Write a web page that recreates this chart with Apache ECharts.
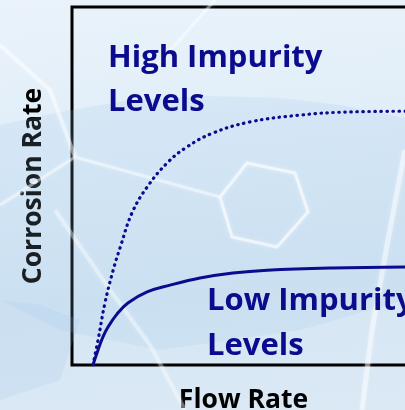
<!DOCTYPE html>
<html><head><meta charset="utf-8">
<script src="https://cdn.jsdelivr.net/npm/echarts@6/dist/echarts.min.js"></script>
<style>
html,body{margin:0;padding:0;}
body{width:405px;height:410px;overflow:hidden;background:linear-gradient(175deg,#eaf3fa 0%,#e0edf8 35%,#d5e6f4 70%,#dbe9f5 100%);}
#c{width:405px;height:410px;}
</style></head><body><div id="c"></div>
<script>
// Data (arbitrary units: x 0..100 flow rate, y 0..100 corrosion rate)
var highX = [6.1, 7.6, 9.6, 12.0, 14.0, 17.5, 21.9, 27.7, 33.5, 41.1, 51.9, 66.5, 81.0, 100];
var highY = [0, 7.0, 17.3, 26.5, 32.7, 42.5, 49.7, 56.4, 60.9, 64.8, 67.9, 69.8, 70.7, 70.9];
var lowX = [6.1, 7.6, 9.0, 10.5, 13.1, 16.3, 21.9, 28.6, 37.3, 46.9, 56.9, 76.1, 100];
var lowY = [0, 4.2, 7.8, 10.6, 14.2, 17.3, 20.4, 22.3, 24.3, 25.7, 26.5, 27.1, 27.4];
var xName = 'Flow Rate';
var yName = 'Corrosion Rate';
var highLabel = ['High Impurity', 'Levels'];
var lowLabel = ['Low Impurity', 'Levels'];

function pairs(xs, ys){ return xs.map(function(x,i){ return [x, ys[i]]; }); }

var navy = '#0b0b8e';
var fam = '"Open Sans", Lato, sans-serif';
var softLine = function(pts, w, a){
  return {type:'polyline', z:1, silent:true, shape:{points:pts},
    style:{fill:'none', stroke:'rgba(255,255,255,' + a + ')', lineWidth:w, shadowBlur:4, shadowColor:'rgba(255,255,255,0.6)'}};
};
var chart = echarts.init(document.getElementById('c'), null, {renderer:'canvas'});
chart.setOption({
  backgroundColor: 'transparent',
  animation: false,
  grid: {left: 72, top: 7, right: -10, bottom: 45, show: true, borderColor: '#000', borderWidth: 3, backgroundColor: 'transparent',
    outerBoundsMode: 'none', containLabel: false},
  xAxis: {type: 'value', min: 0, max: 100, axisLabel: {show:false}, axisTick:{show:false}, splitLine:{show:false}, axisLine:{show:false},
    name: xName, nameLocation: 'middle', nameGap: 22,
    nameTextStyle: {fontFamily: fam, fontWeight: 'bold', fontSize: 26.5, color: '#000'}},
  yAxis: {type: 'value', min: 0, max: 100, axisLabel: {show:false}, axisTick:{show:false}, splitLine:{show:false}, axisLine:{show:false},
    name: yName, nameLocation: 'middle', nameGap: 25,
    nameTextStyle: {fontFamily: fam, fontWeight: 'bold', fontSize: 26.5, color: '#000'}},
  graphic: [
    {type:'polygon', z:1, silent:true, shape:{points:[[0,125],[60,112],[130,100],[200,96],[280,98],[340,105],[405,118],[405,300],[300,330],[160,350],[60,330],[0,300]]}, style:{fill:'rgba(150,190,228,0.16)'}},
    {type:'polygon', z:1, silent:true, shape:{points:[[0,300],[40,305],[80,320],[60,380],[0,400]]}, style:{fill:'rgba(150,190,228,0.15)'}},
    {type:'polygon', z:1, silent:true, shape:{points:[[247,163],[295,173],[308,212],[277,247],[232,237],[220,197]]}, style:{fill:'none', stroke:'rgba(255,255,255,0.6)', lineWidth:3, shadowBlur:4, shadowColor:'rgba(255,255,255,0.6)'}},
    softLine([[220,197],[75,157],[0,205]], 3, 0.45),
    softLine([[0,45],[50,90],[75,157]], 4, 0.45),
    softLine([[55,210],[110,290],[150,345],[185,410]], 4, 0.35),
    softLine([[405,150],[388,240],[372,330],[362,410]], 5, 0.45),
    softLine([[215,0],[175,45],[150,72]], 3, 0.4),
    {type:'text', z:10, silent:true, style:{text: highLabel[0], x:108, y:58, verticalAlign:'middle', font:'bold 31px ' + fam, fill:navy}},
    {type:'text', z:10, silent:true, style:{text: highLabel[1], x:108, y:102, verticalAlign:'middle', font:'bold 31px ' + fam, fill:navy}},
    {type:'text', z:10, silent:true, style:{text: lowLabel[0], x:207, y:301, verticalAlign:'middle', font:'bold 31px ' + fam, fill:navy}},
    {type:'text', z:10, silent:true, style:{text: lowLabel[1], x:207, y:346, verticalAlign:'middle', font:'bold 31px ' + fam, fill:navy}}
  ],
  series: [
    {type:'line', data: pairs(highX, highY), smooth: 0.4, showSymbol:false, z:5,
      lineStyle:{color: navy, width: 3.2, type:[0.5, 5.5], cap:'round'}},
    {type:'line', data: pairs(lowX, lowY), smooth: 0.4, showSymbol:false, z:5,
      lineStyle:{color: navy, width: 3, type:'solid'}}
  ]
});
</script></body></html>
